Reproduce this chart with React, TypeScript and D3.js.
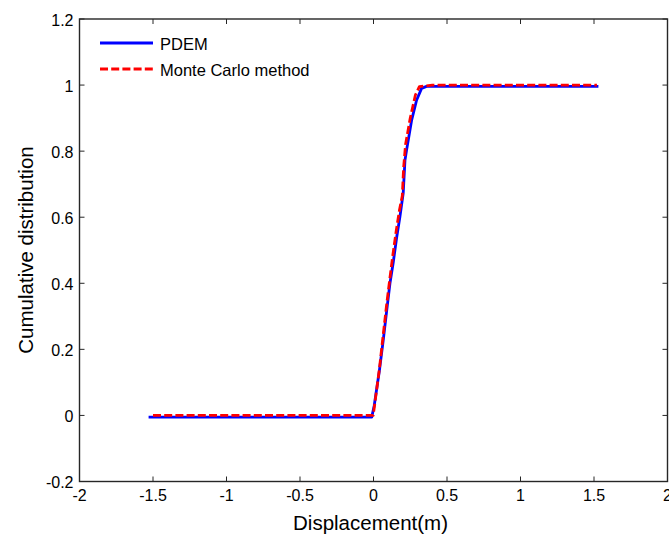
import React from "react";
import * as d3 from "d3";

const pdemX = [-1.53, -0.012, 0.005, 0.04, 0.067, 0.09, 0.112, 0.134, 0.158, 0.18, 0.202, 0.214, 0.225, 0.259, 0.293, 0.327, 0.361, 1.53];
const pdemY = [-0.005, -0.005, 0.03, 0.135, 0.23, 0.318, 0.4, 0.462, 0.54, 0.602, 0.672, 0.772, 0.803, 0.893, 0.954, 0.99, 0.996, 0.996];

const mcX = [-1.5, -0.002, 0.01, 0.04, 0.065, 0.088, 0.11, 0.13, 0.155, 0.176, 0.196, 0.205, 0.218, 0.25, 0.285, 0.312, 0.4, 1.52];
const mcY = [0, 0, 0.04, 0.14, 0.24, 0.33, 0.41, 0.48, 0.56, 0.62, 0.665, 0.75, 0.82, 0.9, 0.97, 0.995, 1.0, 1.0];

const xTicks = [-2, -1.5, -1, -0.5, 0, 0.5, 1, 1.5, 2];
const xTickLabels = ["-2", "-1.5", "-1", "-0.5", "0", "0.5", "1", "1.5", "2"];
const yTicks = [-0.2, 0, 0.2, 0.4, 0.6, 0.8, 1, 1.2];
const yTickLabels = ["-0.2", "0", "0.2", "0.4", "0.6", "0.8", "1", "1.2"];

const seriesNames = ["PDEM", "Monte Carlo method"];
const xLabel = "Displacement(m)";
const yLabel = "Cumulative distribution";

const W = 669;
const H = 536;
const L = 79.5, R = 667.5, T = 19, B = 481.5;
const FONT = "'Liberation Sans', Arial, Helvetica, sans-serif";
const AXIS = "#262626";

export default function App() {
  const x = d3.scaleLinear().domain([-2, 2]).range([L, R]);
  const y = d3.scaleLinear().domain([-0.2, 1.2]).range([B, T]);
  const line = d3
    .line<[number, number]>()
    .x((d) => x(d[0]))
    .y((d) => y(d[1]));
  const pdem: [number, number][] = pdemX.map((v, i) => [v, pdemY[i]]);
  const mc: [number, number][] = mcX.map((v, i) => [v, mcY[i]]);
  const tl = 5;

  return (
    <svg
      width={W}
      height={H}
      style={{ position: "absolute", left: 0, top: 0, background: "#fff" }}
      fontFamily={FONT}
    >
      <rect x={0} y={0} width={W} height={H} fill="#fff" />
      {/* ticks */}
      {xTicks.map((t, i) => (
        <g key={"xt" + i}>
          <line x1={x(t)} x2={x(t)} y1={B} y2={B - tl} stroke={AXIS} strokeWidth={1} />
          <line x1={x(t)} x2={x(t)} y1={T} y2={T + tl} stroke={AXIS} strokeWidth={1} />
          <text x={x(t)} y={B + 19.5} fontSize={16} textAnchor="middle" fill="#000">
            {xTickLabels[i]}
          </text>
        </g>
      ))}
      {yTicks.map((t, i) => (
        <g key={"yt" + i}>
          <line x1={L} x2={L + tl} y1={y(t)} y2={y(t)} stroke={AXIS} strokeWidth={1} />
          <line x1={R} x2={R - tl} y1={y(t)} y2={y(t)} stroke={AXIS} strokeWidth={1} />
          <text x={L - 6} y={y(t) + 6.5} fontSize={16} textAnchor="end" fill="#000">
            {yTickLabels[i]}
          </text>
        </g>
      ))}
      {/* data */}
      <path d={line(pdem) || ""} fill="none" stroke="#0000ff" strokeWidth={2.8} strokeLinejoin="round" />
      <path
        d={line(mc) || ""}
        fill="none"
        stroke="#ff0000"
        strokeWidth={2.8}
        strokeDasharray="8,3.2"
        strokeLinejoin="round"
      />
      {/* box */}
      <rect x={L} y={T} width={R - L} height={B - T} fill="none" stroke={AXIS} strokeWidth={1.4} />
      {/* legend */}
      <line x1={100} x2={153} y1={43} y2={43} stroke="#0000ff" strokeWidth={2.8} />
      <text x={160} y={50} fontSize={16.5} fill="#000">
        {seriesNames[0]}
      </text>
      <line x1={100} x2={153} y1={69} y2={69} stroke="#ff0000" strokeWidth={2.8} strokeDasharray="8,3.2" />
      <text x={160} y={75.5} fontSize={16.5} fill="#000">
        {seriesNames[1]}
      </text>
      {/* axis labels */}
      <text x={370.5} y={530} fontSize={20.5} textAnchor="middle" fill="#000">
        {xLabel}
      </text>
      <text
        transform={`translate(33,250) rotate(-90)`}
        fontSize={20.5}
        textAnchor="middle"
        fill="#000"
      >
        {yLabel}
      </text>
    </svg>
  );
}
